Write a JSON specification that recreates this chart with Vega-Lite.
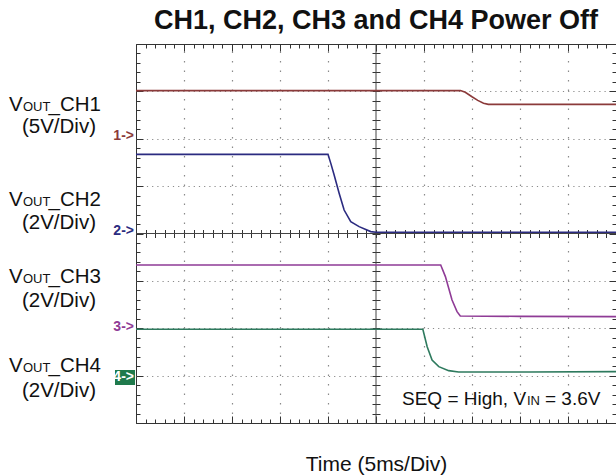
{
  "$schema": "https://vega.github.io/schema/vega-lite/v6.json",
  "width": 480,
  "height": 379,
  "autosize": {"type": "none"},
  "padding": {"left": 136, "top": 44, "right": 0, "bottom": 53},
  "background": "white",
  "config": {
    "font": "Liberation Sans",
    "view": {"stroke": "#333333", "strokeWidth": 1}
  },
  "title": {"text": "CH1, CH2, CH3 and CH4 Power Off", "fontSize": 27, "fontWeight": "bold", "color": "#111111", "offset": 9, "anchor": "middle"},
  "datasets": {
    "traces": [
      {"ch": "CH1", "t": -25, "v": 5.08}, {"ch": "CH1", "t": -15, "v": 5.08}, {"ch": "CH1", "t": -5, "v": 5.08}, {"ch": "CH1", "t": 5, "v": 5.08}, {"ch": "CH1", "t": 8.8, "v": 5.08}, {"ch": "CH1", "t": 9.3, "v": 4.9}, {"ch": "CH1", "t": 10.0, "v": 4.43}, {"ch": "CH1", "t": 10.6, "v": 4.05}, {"ch": "CH1", "t": 11.2, "v": 3.75}, {"ch": "CH1", "t": 11.7, "v": 3.63}, {"ch": "CH1", "t": 18, "v": 3.63}, {"ch": "CH1", "t": 25, "v": 3.63},
      {"ch": "CH2", "t": -25, "v": 3.34}, {"ch": "CH2", "t": -15, "v": 3.34}, {"ch": "CH2", "t": -5.0, "v": 3.34}, {"ch": "CH2", "t": -4.7, "v": 2.95}, {"ch": "CH2", "t": -4.36, "v": 2.47}, {"ch": "CH2", "t": -3.84, "v": 1.7}, {"ch": "CH2", "t": -3.32, "v": 0.99}, {"ch": "CH2", "t": -2.63, "v": 0.5}, {"ch": "CH2", "t": -1.76, "v": 0.29}, {"ch": "CH2", "t": -0.55, "v": 0.08}, {"ch": "CH2", "t": 0, "v": 0.05}, {"ch": "CH2", "t": 25, "v": 0.05},
      {"ch": "CH3", "t": -25, "v": 2.67}, {"ch": "CH3", "t": -10, "v": 2.67}, {"ch": "CH3", "t": 6.74, "v": 2.67}, {"ch": "CH3", "t": 7.23, "v": 2.18}, {"ch": "CH3", "t": 7.92, "v": 1.19}, {"ch": "CH3", "t": 8.44, "v": 0.7}, {"ch": "CH3", "t": 8.78, "v": 0.52}, {"ch": "CH3", "t": 15, "v": 0.5}, {"ch": "CH3", "t": 25, "v": 0.49},
      {"ch": "CH4", "t": -25, "v": 1.96}, {"ch": "CH4", "t": -10, "v": 1.96}, {"ch": "CH4", "t": 4.88, "v": 1.96}, {"ch": "CH4", "t": 5.33, "v": 1.22}, {"ch": "CH4", "t": 5.84, "v": 0.66}, {"ch": "CH4", "t": 6.54, "v": 0.38}, {"ch": "CH4", "t": 7.57, "v": 0.21}, {"ch": "CH4", "t": 8.6, "v": 0.15}, {"ch": "CH4", "t": 16, "v": 0.15}, {"ch": "CH4", "t": 25, "v": 0.17}
    ],
    "bigLabels": [
      {"txt": "V", "t": -38.23, "d": 2.586}, {"txt": "_CH1", "t": -34.11, "d": 2.586}, {"txt": "(5V/Div)", "t": -36.88, "d": 2.121},
      {"txt": "V", "t": -38.23, "d": 0.58}, {"txt": "_CH2", "t": -34.11, "d": 0.58}, {"txt": "(2V/Div)", "t": -36.88, "d": 0.095},
      {"txt": "V", "t": -38.23, "d": -1.045}, {"txt": "_CH3", "t": -34.11, "d": -1.045}, {"txt": "(2V/Div)", "t": -36.88, "d": -1.551},
      {"txt": "V", "t": -38.23, "d": -2.923}, {"txt": "_CH4", "t": -34.11, "d": -2.923}, {"txt": "(2V/Div)", "t": -36.88, "d": -3.451}
    ],
    "smallLabels": [
      {"txt": "OUT", "t": -36.77, "d": 2.586}, {"txt": "OUT", "t": -36.77, "d": 0.58}, {"txt": "OUT", "t": -36.77, "d": -1.045}, {"txt": "OUT", "t": -36.77, "d": -2.923},
      {"txt": "IN", "t": 15.73, "d": -3.62}
    ],
    "note": [
      {"txt": "SEQ = High, V", "t": 2.71, "d": -3.62}, {"txt": "= 3.6V", "t": 17.6, "d": -3.62}
    ],
    "markers": [
      {"ch": "CH1", "txt": "1->", "t": -25.21, "d": 2.058},
      {"ch": "CH2", "txt": "2->", "t": -25.21, "d": 0.053},
      {"ch": "CH3", "txt": "3->", "t": -25.21, "d": -1.974},
      {"ch": "CH4", "txt": "4->", "t": -25.21, "d": -3.03}
    ],
    "box": [{"t1": -27.19, "t2": -25.1, "d1": -2.881, "d2": -3.198}]
  },
  "layer": [
    {
      "data": {"values": [{"t": 0}]},
      "mark": {"type": "rule", "color": "#444444", "strokeWidth": 1},
      "encoding": {
        "x": {"field": "t", "type": "quantitative", "scale": {"domain": [-25, 25], "nice": false, "zero": false},
          "axis": {"orient": "bottom", "values": [-25,-24,-23,-22,-21,-20,-19,-18,-17,-16,-15,-14,-13,-12,-11,-10,-9,-8,-7,-6,-5,-4,-3,-2,-1,0,1,2,3,4,5,6,7,8,9,10,11,12,13,14,15,16,17,18,19,20,21,22,23,24,25],
            "labels": false, "domain": false, "tickColor": "#333333", "tickWidth": 1,
            "tickSize": {"condition": {"test": "datum.value % 5 === 0", "value": -7}, "value": -4},
            "grid": true, "gridColor": "#8a8a8a", "gridDash": [1.5, 8], "gridWidth": 1.2,
            "gridOpacity": {"condition": {"test": "datum.value % 5 === 0 && abs(datum.value) < 25 && datum.value !== 0", "value": 1}, "value": 0},
            "title": "Time (5ms/Div)", "titleFontSize": 21, "titleFontWeight": "normal", "titleColor": "#111111", "titlePadding": 30}}
      }
    },
    {
      "data": {"values": [{"d": 0}]},
      "mark": {"type": "rule", "color": "#444444", "strokeWidth": 1},
      "encoding": {
        "y": {"field": "d", "type": "quantitative", "scale": {"domain": [-4, 4], "nice": false, "zero": false},
          "axis": {"orient": "left", "values": [-4,-3.8,-3.6,-3.4,-3.2,-3,-2.8,-2.6,-2.4,-2.2,-2,-1.8,-1.6,-1.4,-1.2,-1,-0.8,-0.6,-0.4,-0.2,0,0.2,0.4,0.6,0.8,1,1.2,1.4,1.6,1.8,2,2.2,2.4,2.6,2.8,3,3.2,3.4,3.6,3.8,4],
            "labels": false, "domain": false, "tickColor": "#333333", "tickWidth": 1,
            "tickSize": {"condition": {"test": "abs(datum.value - round(datum.value)) < 0.001", "value": -7}, "value": -4},
            "grid": true, "gridColor": "#8a8a8a", "gridDash": [1.2, 4], "gridWidth": 1.2,
            "gridOpacity": {"condition": {"test": "abs(datum.value - round(datum.value)) < 0.001 && abs(datum.value) < 3.9 && abs(datum.value) > 0.1", "value": 1}, "value": 0},
            "title": null}}
      }
    },
    {
      "data": {"name": "traces"},
      "transform": [{"filter": "datum.ch === 'CH1'"}],
      "mark": {"type": "line", "color": "#8b3a3a", "strokeWidth": 1.6},
      "encoding": {
        "x": {"field": "t", "type": "quantitative", "scale": {"domain": [-25, 25], "nice": false, "zero": false}, "axis": null},
        "y": {"field": "v", "type": "quantitative", "scale": {"domain": [-30, 10], "nice": false, "zero": false}, "axis": null}
      }
    },
    {
      "data": {"name": "traces"},
      "transform": [{"filter": "datum.ch === 'CH2'"}],
      "mark": {"type": "line", "color": "#2b2b80", "strokeWidth": 1.6},
      "encoding": {
        "x": {"field": "t", "type": "quantitative", "scale": {"domain": [-25, 25], "nice": false, "zero": false}, "axis": null},
        "y": {"field": "v", "type": "quantitative", "scale": {"domain": [-8, 8], "nice": false, "zero": false}, "axis": null}
      }
    },
    {
      "data": {"name": "traces"},
      "transform": [{"filter": "datum.ch === 'CH3'"}],
      "mark": {"type": "line", "color": "#8f3b96", "strokeWidth": 1.6},
      "encoding": {
        "x": {"field": "t", "type": "quantitative", "scale": {"domain": [-25, 25], "nice": false, "zero": false}, "axis": null},
        "y": {"field": "v", "type": "quantitative", "scale": {"domain": [-4, 12], "nice": false, "zero": false}, "axis": null}
      }
    },
    {
      "data": {"name": "traces"},
      "transform": [{"filter": "datum.ch === 'CH4'"}],
      "mark": {"type": "line", "color": "#2e7a5e", "strokeWidth": 1.6},
      "encoding": {
        "x": {"field": "t", "type": "quantitative", "scale": {"domain": [-25, 25], "nice": false, "zero": false}, "axis": null},
        "y": {"field": "v", "type": "quantitative", "scale": {"domain": [-2, 14], "nice": false, "zero": false}, "axis": null}
      }
    },
    {
      "data": {"name": "bigLabels"},
      "mark": {"type": "text", "align": "left", "baseline": "alphabetic", "fontSize": 20.5, "color": "#111111"},
      "encoding": {
        "x": {"field": "t", "type": "quantitative", "scale": {"domain": [-25, 25], "nice": false, "zero": false},
          "axis": {"orient": "top", "values": [-25,-24,-23,-22,-21,-20,-19,-18,-17,-16,-15,-14,-13,-12,-11,-10,-9,-8,-7,-6,-5,-4,-3,-2,-1,0,1,2,3,4,5,6,7,8,9,10,11,12,13,14,15,16,17,18,19,20,21,22,23,24,25],
            "labels": false, "domain": false, "grid": false, "title": null, "tickColor": "#333333", "tickWidth": 1,
            "tickSize": {"condition": {"test": "datum.value % 5 === 0", "value": -7}, "value": -4}}},
        "y": {"field": "d", "type": "quantitative", "scale": {"domain": [-4, 4], "nice": false, "zero": false},
          "axis": {"orient": "right", "values": [-4,-3.8,-3.6,-3.4,-3.2,-3,-2.8,-2.6,-2.4,-2.2,-2,-1.8,-1.6,-1.4,-1.2,-1,-0.8,-0.6,-0.4,-0.2,0,0.2,0.4,0.6,0.8,1,1.2,1.4,1.6,1.8,2,2.2,2.4,2.6,2.8,3,3.2,3.4,3.6,3.8,4],
            "labels": false, "domain": false, "grid": false, "title": null, "tickColor": "#333333", "tickWidth": 1,
            "tickSize": {"condition": {"test": "abs(datum.value - round(datum.value)) < 0.001", "value": -7}, "value": -4}}},
        "text": {"field": "txt"}
      }
    },
    {
      "data": {"name": "smallLabels"},
      "mark": {"type": "text", "align": "left", "baseline": "alphabetic", "fontSize": 13, "color": "#111111"},
      "encoding": {
        "x": {"field": "t", "type": "quantitative", "scale": {"domain": [-25, 25], "nice": false, "zero": false},
          "axis": {"orient": "bottom", "offset": -193.5, "values": [-25,-24,-23,-22,-21,-20,-19,-18,-17,-16,-15,-14,-13,-12,-11,-10,-9,-8,-7,-6,-5,-4,-3,-2,-1,0,1,2,3,4,5,6,7,8,9,10,11,12,13,14,15,16,17,18,19,20,21,22,23,24,25],
            "labels": false, "domain": false, "grid": false, "title": null, "tickColor": "#333333", "tickWidth": 1, "tickSize": 8}},
        "y": {"field": "d", "type": "quantitative", "scale": {"domain": [-4, 4], "nice": false, "zero": false},
          "axis": {"orient": "left", "offset": -244, "values": [-4,-3.8,-3.6,-3.4,-3.2,-3,-2.8,-2.6,-2.4,-2.2,-2,-1.8,-1.6,-1.4,-1.2,-1,-0.8,-0.6,-0.4,-0.2,0,0.2,0.4,0.6,0.8,1,1.2,1.4,1.6,1.8,2,2.2,2.4,2.6,2.8,3,3.2,3.4,3.6,3.8,4],
            "labels": false, "domain": false, "grid": false, "title": null, "tickColor": "#333333", "tickWidth": 1, "tickSize": 8}},
        "text": {"field": "txt"}
      }
    },
    {
      "data": {"name": "note"},
      "mark": {"type": "text", "align": "left", "baseline": "alphabetic", "fontSize": 19, "color": "#111111"},
      "encoding": {
        "x": {"field": "t", "type": "quantitative", "scale": {"domain": [-25, 25], "nice": false, "zero": false}, "axis": null},
        "y": {"field": "d", "type": "quantitative", "scale": {"domain": [-4, 4], "nice": false, "zero": false}, "axis": null},
        "text": {"field": "txt"}
      }
    },
    {
      "data": {"name": "box"},
      "mark": {"type": "rect", "color": "#1f7a4c"},
      "encoding": {
        "x": {"field": "t1", "type": "quantitative", "scale": {"domain": [-25, 25], "nice": false, "zero": false}, "axis": null},
        "x2": {"field": "t2"},
        "y": {"field": "d1", "type": "quantitative", "scale": {"domain": [-4, 4], "nice": false, "zero": false}, "axis": null},
        "y2": {"field": "d2"}
      }
    },
    {
      "data": {"name": "markers"},
      "mark": {"type": "text", "align": "right", "baseline": "middle", "fontSize": 14, "fontWeight": "bold"},
      "encoding": {
        "x": {"field": "t", "type": "quantitative", "scale": {"domain": [-25, 25], "nice": false, "zero": false}, "axis": null},
        "y": {"field": "d", "type": "quantitative", "scale": {"domain": [-4, 4], "nice": false, "zero": false}, "axis": null},
        "color": {"field": "ch", "type": "nominal", "scale": {"domain": ["CH1", "CH2", "CH3", "CH4"], "range": ["#8b3a3a", "#2b2b80", "#8f3b96", "#ffffff"]}, "legend": null},
        "text": {"field": "txt"}
      }
    }
  ],
  "resolve": {"scale": {"y": "independent"}, "axis": {"x": "independent", "y": "independent"}}
}
